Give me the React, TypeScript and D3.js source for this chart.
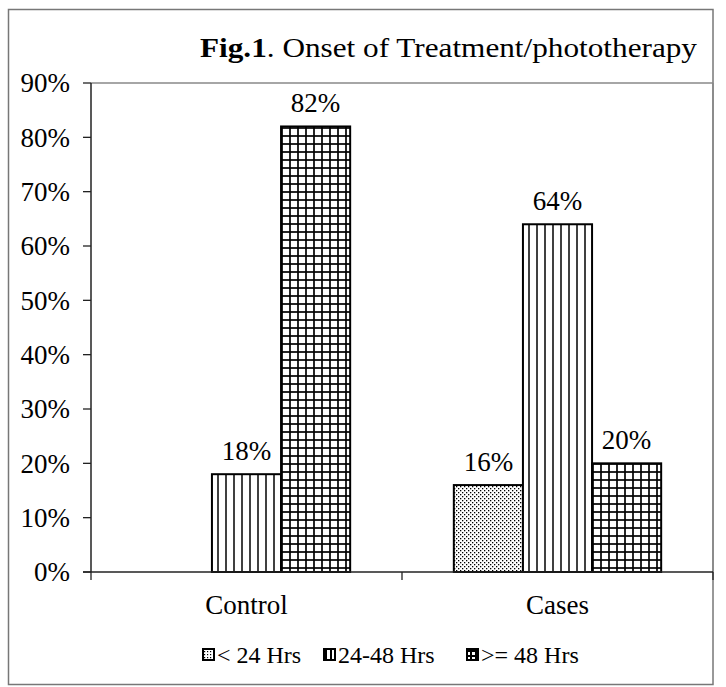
import React from "react";
import * as d3 from "d3";

const categories = ["Control", "Cases"];
const seriesNames = ["< 24 Hrs", "24-48 Hrs", ">= 48 Hrs"];
const lessThan24: (number | null)[] = [null, 16];
const from24to48: (number | null)[] = [18, 64];
const over48: (number | null)[] = [82, 20];
const yTicks = [0, 10, 20, 30, 40, 50, 60, 70, 80, 90];
const titleBold = "Fig.1";
const titleRest = ". Onset of Treatment/phototherapy";

const seriesValues = [lessThan24, from24to48, over48];
const patternIds = ["pDots", "pVert", "pGrid"];
const swatchIds = ["sDots", "sVert", "sGrid"];

const W = 726;
const H = 687;
const plotLeft = 91;
const plotRight = 713;
const plotTop = 83;
const plotBottom = 572;
const FONT = "'Liberation Serif', 'Times New Roman', serif";

export default function App() {
  const x0 = d3.scaleBand<string>().domain(categories).range([plotLeft, plotRight]).padding(0);
  const x1 = d3
    .scaleBand<string>()
    .domain(seriesNames)
    .range([0, x0.bandwidth()])
    .paddingInner(0)
    .paddingOuter(0.75);
  const y = d3.scaleLinear().domain([0, 90]).range([plotBottom, plotTop]);

  const legendX = [203, 324, 467];

  return (
    <svg
      width={W}
      height={H}
      style={{ position: "absolute", left: 0, top: 0, background: "#fff" }}
      fontFamily={FONT}
    >
      <defs>
        <pattern id="pDots" width={4} height={4} patternUnits="userSpaceOnUse">
          <rect width={4} height={4} fill="#fff" />
          <rect x={0} y={0} width={1.3} height={1.3} fill="#000" />
          <rect x={2} y={2} width={1.3} height={1.3} fill="#000" />
        </pattern>
        <pattern id="pVert" width={8} height={8} patternUnits="userSpaceOnUse" x={plotLeft}>
          <rect width={8} height={8} fill="#fff" />
          <line x1={4} x2={4} y1={0} y2={8} stroke="#000" strokeWidth={1.5} />
        </pattern>
        <pattern id="pGrid" width={8} height={8} patternUnits="userSpaceOnUse" x={plotLeft} y={plotBottom}>
          <rect width={8} height={8} fill="#fff" />
          <line x1={4} x2={4} y1={0} y2={8} stroke="#000" strokeWidth={1.7} />
          <line x1={0} x2={8} y1={4} y2={4} stroke="#000" strokeWidth={1.7} />
        </pattern>
        <pattern id="sDots" width={3} height={3} patternUnits="userSpaceOnUse">
          <rect width={3} height={3} fill="#fff" />
          <rect x={0} y={0} width={1.2} height={1.2} fill="#000" />
        </pattern>
        <pattern id="sVert" width={5} height={12} patternUnits="userSpaceOnUse" x={2}>
          <rect width={5} height={12} fill="#fff" />
          <line x1={4} x2={4} y1={0} y2={12} stroke="#000" strokeWidth={2} />
        </pattern>
        <pattern id="sGrid" width={5} height={5} patternUnits="userSpaceOnUse" x={2} y={2}>
          <rect width={5} height={5} fill="#fff" />
          <line x1={4} x2={4} y1={0} y2={5} stroke="#000" strokeWidth={2} />
          <line x1={0} x2={5} y1={4} y2={4} stroke="#000" strokeWidth={2} />
        </pattern>
      </defs>

      {/* outer frame */}
      <rect x={8.5} y={9.5} width={704.5} height={675} fill="#fff" stroke="#777" strokeWidth={1.5} />

      {/* title */}
      <text x={200} y={57} fontSize={28} fill="#000" textLength={497} lengthAdjust="spacingAndGlyphs">
        <tspan fontWeight="bold">{titleBold}</tspan>
        <tspan>{titleRest}</tspan>
      </text>

      {/* plot area border (top, right) */}
      <line x1={plotLeft} x2={plotRight} y1={plotTop} y2={plotTop} stroke="#888" strokeWidth={1.5} />
      <line x1={plotRight} x2={plotRight} y1={plotTop} y2={plotBottom} stroke="#888" strokeWidth={1.5} />

      {/* y axis */}
      <line x1={plotLeft} x2={plotLeft} y1={plotTop} y2={plotBottom} stroke="#222" strokeWidth={1.5} />
      {yTicks.map((t) => (
        <g key={t}>
          <line x1={plotLeft - 8} x2={plotLeft} y1={y(t)} y2={y(t)} stroke="#222" strokeWidth={1.3} />
          <text x={plotLeft - 21} y={y(t)} dy="0.35em" textAnchor="end" fontSize={27} fill="#000">
            {t}%
          </text>
        </g>
      ))}

      {/* bars */}
      {categories.map((c, ci) => (
        <g key={c} transform={`translate(${x0(c)},0)`}>
          {seriesNames.map((s, si) => {
            const v = seriesValues[si][ci];
            if (v === null) return null;
            const bx = x1(s)!;
            const bw = x1.bandwidth();
            return (
              <g key={s}>
                <rect
                  x={bx}
                  y={y(v)}
                  width={bw}
                  height={plotBottom - y(v)}
                  fill={`url(#${patternIds[si]})`}
                  stroke="#000"
                  strokeWidth={2}
                />
                <text x={bx + bw / 2} y={y(v) - 14} textAnchor="middle" fontSize={27} fill="#000">
                  {v}%
                </text>
              </g>
            );
          })}
        </g>
      ))}

      {/* x axis */}
      <line x1={plotLeft - 8} x2={plotRight} y1={plotBottom} y2={plotBottom} stroke="#222" strokeWidth={1.5} />
      {[plotLeft, ...categories.map((c) => x0(c)! + x0.bandwidth())].map((xv, i) => (
        <line key={i} x1={xv} x2={xv} y1={plotBottom} y2={plotBottom + 8} stroke="#222" strokeWidth={1.3} />
      ))}
      {categories.map((c) => (
        <text key={c} x={x0(c)! + x0.bandwidth() / 2} y={614} textAnchor="middle" fontSize={27} fill="#000">
          {c}
        </text>
      ))}

      {/* legend */}
      {seriesNames.map((s, si) => (
        <g key={s}>
          <rect
            x={legendX[si]}
            y={649}
            width={11}
            height={11}
            fill={`url(#${swatchIds[si]})`}
            stroke="#000"
            strokeWidth={2}
          />
          <text x={legendX[si] + 14} y={663} fontSize={24} fill="#000">
            {s}
          </text>
        </g>
      ))}
    </svg>
  );
}
